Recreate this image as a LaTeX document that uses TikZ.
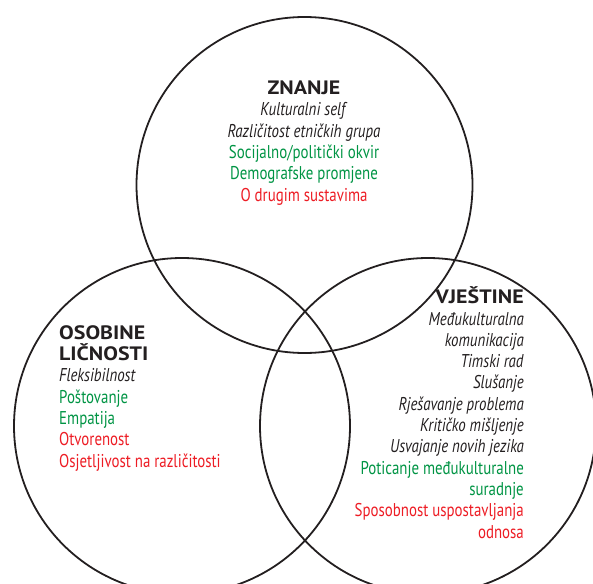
\documentclass[tikz,border=0pt]{standalone}
\usepackage{fontspec}
\setmainfont{PT Sans}[FakeStretch=0.805]
\newfontfamily\headfont{PT Sans}[FakeStretch=1.13]
\newcommand{\hd}[1]{{\headfont\bfseries\fontsize{19.4}{21.3}\selectfont #1}}
\definecolor{txtdark}{RGB}{35,31,32}
\definecolor{grn}{RGB}{0,148,68}
\definecolor{rd}{RGB}{237,28,36}
\begin{document}
\begin{tikzpicture}[x=1pt,y=-1pt,
  ring/.style={draw=txtdark, line width=1.8pt},
  blk/.style={inner sep=0pt, text=txtdark, font=\fontsize{18.5}{21.3}\selectfont}]
\useasboundingbox (0,0) rectangle (593,583);
\clip (0,0) rectangle (593,583);
\draw[ring] (304.5,185) circle[radius=168pt];
\draw[ring] (182,426) circle[radius=168pt];
\draw[ring] (428,426) circle[radius=168pt];
\node[blk, anchor=base, align=center] (znanje) at (304,201)
  {\hd{ZNANJE}\\
   \textit{Kulturalni self}\\
   \textit{Različitost etničkih grupa}\\
   {\color{grn}Socijalno/politički okvir}\\
   {\color{grn}Demografske promjene}\\
   {\color{rd}O drugim sustavima}};
\node[blk, anchor=base west, align=left] (osobine) at (59,467)
  {\hd{OSOBINE}\\
   \hd{LIČNOSTI}\\
   \textit{Fleksibilnost}\\
   {\color{grn}Poštovanje}\\
   {\color{grn}Empatija}\\
   {\color{rd}Otvorenost}\\
   {\color{rd}Osjetljivost na različitosti}};
\node[blk, anchor=base east, align=right] (vjestine) at (524,538)
  {\hd{VJEŠTINE}\\
   \textit{Međukulturalna}\\
   \textit{komunikacija}\\
   \textit{Timski rad}\\
   \textit{Slušanje}\\
   \textit{Rješavanje problema}\\
   \textit{Kritičko mišljenje}\\
   \textit{Usvajanje novih jezika}\\
   {\color{grn}Poticanje međukulturalne}\\
   {\color{grn}suradnje}\\
   {\color{rd}Sposobnost uspostavljanja}\\
   {\color{rd}odnosa}};
\end{tikzpicture}
\end{document}
